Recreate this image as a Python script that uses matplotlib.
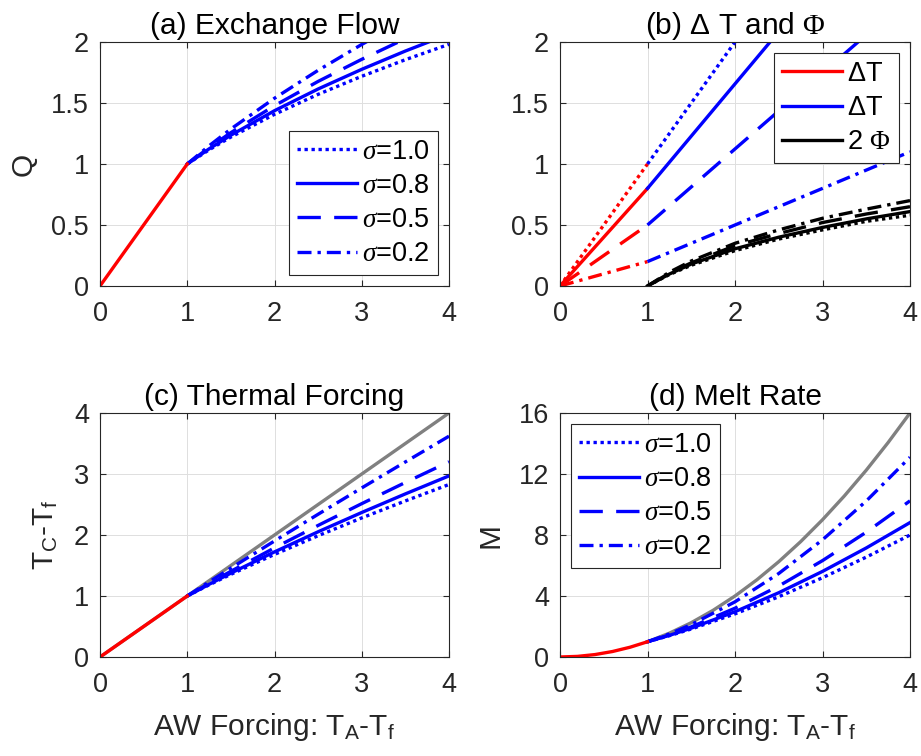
import numpy as np
import matplotlib
matplotlib.use('Agg')
import matplotlib.pyplot as plt
from matplotlib.ticker import FormatStrFormatter
from matplotlib.lines import Line2D

#%% values
x_lo = [0, 1]
x_hi = [1, 1.25, 1.5, 2, 2.5, 3, 3.5, 4]
sig_labels = ['1.0', '0.8', '0.5', '0.2']

# (a) exchange flow Q, for x >= 1
Q_lo = [0, 1]
Q_10 = [1, 1.116, 1.221, 1.407, 1.571, 1.719, 1.855, 1.981]
Q_08 = [1, 1.124, 1.236, 1.437, 1.615, 1.776, 1.926, 2.065]
Q_05 = [1, 1.134, 1.257, 1.478, 1.677, 1.858, 2.027, 2.184]
Q_02 = [1, 1.149, 1.287, 1.539, 1.768, 1.980, 2.179, 2.367]

# (b) delta T (straight pieces) and 2*Phi
x_dT = [0, 1, 4]
dT_10 = [0, 1.0, 4.0]
dT_08 = [0, 0.8, 3.37]
dT_05 = [0, 0.5, 2.37]
dT_02 = [0, 0.2, 1.10]
Phi_10 = [0, 0.094, 0.17, 0.29, 0.385, 0.46, 0.53, 0.58]
Phi_08 = [0, 0.098, 0.18, 0.305, 0.40, 0.48, 0.55, 0.61]
Phi_05 = [0, 0.105, 0.19, 0.33, 0.43, 0.52, 0.59, 0.65]
Phi_02 = [0, 0.113, 0.205, 0.35, 0.46, 0.555, 0.63, 0.70]

# (c) thermal forcing
TC_lo = [0, 1]
TC_ref_x = [0, 4]
TC_ref = [0, 4]
TC_10 = [1, 1.182, 1.355, 1.682, 1.988, 2.280, 2.559, 2.828]
TC_08 = [1, 1.191, 1.375, 1.723, 2.053, 2.369, 2.674, 2.969]
TC_05 = [1, 1.206, 1.405, 1.789, 2.157, 2.514, 2.861, 3.200]
TC_02 = [1, 1.230, 1.457, 1.902, 2.340, 2.772, 3.198, 3.620]

# (d) melt rate
x_M_lo = [0, 0.2, 0.4, 0.6, 0.8, 1]
M_lo = [0, 0.04, 0.16, 0.36, 0.64, 1]
x_M_ref = [1, 1.25, 1.5, 1.75, 2, 2.25, 2.5, 2.75, 3, 3.25, 3.5, 3.75, 4]
M_ref = [1, 1.5625, 2.25, 3.0625, 4, 5.0625, 6.25, 7.5625, 9, 10.5625,
         12.25, 14.0625, 16]
M_10 = [1, 1.397, 1.836, 2.829, 3.952, 5.198, 6.549, 7.998]
M_08 = [1, 1.418, 1.891, 2.969, 4.215, 5.612, 7.150, 8.815]
M_05 = [1, 1.454, 1.974, 3.200, 4.653, 6.320, 8.185, 10.24]
M_02 = [1, 1.513, 2.123, 3.618, 5.476, 7.684, 10.227, 13.10]

#%% style
plt.rcParams['font.family'] = 'Liberation Sans'
plt.rcParams['mathtext.fontset'] = 'custom'
plt.rcParams['mathtext.rm'] = 'Liberation Sans'
plt.rcParams['mathtext.it'] = 'Liberation Serif:italic'
plt.rcParams['mathtext.sf'] = 'Liberation Serif'
plt.rcParams['mathtext.default'] = 'rm'

fs = 19.5   # tick / legend font
fl = 21.5   # titles / labels
lw = 2.4
axc = '#262626'
styles = [(1.0, 1.1), None, (7.0, 4.0), (4.2, 1.8, 1.0, 1.8)]


def set_style(line, st):
    if st is not None:
        line.set_dashes(st)


def fmt_ax(ax, ylim, yticks):
    ax.set_xlim(0, 4)
    ax.set_ylim(*ylim)
    ax.set_xticks([0, 1, 2, 3, 4])
    ax.set_yticks(yticks)
    ax.yaxis.set_major_formatter(FormatStrFormatter('%g'))
    ax.tick_params(direction='in', top=True, right=True, labelsize=fs,
                   colors=axc, length=4, width=0.8)
    ax.tick_params(axis='x', pad=11)
    ax.tick_params(axis='y', pad=8)
    for s in ax.spines.values():
        s.set_color(axc)
        s.set_linewidth(0.8)
    ax.grid(True, color='#dedede', lw=0.7)
    ax.set_axisbelow(True)


def add_legend(ax, handles, labels, loc):
    leg = ax.legend(handles, labels, loc=loc,
                    fontsize=fs, fancybox=False, framealpha=1, edgecolor=axc,
                    handlelength=2.2, handletextpad=0.2, labelspacing=0.3,
                    borderpad=0.3, borderaxespad=0.4)
    leg.get_frame().set_linewidth(0.8)


def sigma_legend(ax, loc):
    hs = [Line2D([], [], color='b', lw=lw) for _ in sig_labels]
    for h, st in zip(hs, styles):
        set_style(h, st)
    add_legend(ax, hs, [r'$\mathit{\sigma}$=' + s for s in sig_labels], loc)


W, H = 921, 756
fig = plt.figure(figsize=(W / 100, H / 100), dpi=100)
ax_a = fig.add_axes([100 / W, 1 - 286 / H, 349 / W, 244 / H])
ax_b = fig.add_axes([560 / W, 1 - 286 / H, 350 / W, 244 / H])
ax_c = fig.add_axes([100 / W, 1 - 657 / H, 349 / W, 244 / H])
ax_d = fig.add_axes([560 / W, 1 - 657 / H, 350 / W, 244 / H])

#%% (a) exchange flow
for Q, st in zip([Q_10, Q_08, Q_05, Q_02], styles):
    l, = ax_a.plot(x_hi, Q, color='b', lw=lw)
    set_style(l, st)
ax_a.plot(x_lo, Q_lo, color='r', lw=lw)
fmt_ax(ax_a, (0, 2), [0, 0.5, 1, 1.5, 2])
ax_a.set_ylabel('Q', fontsize=fl, color=axc, labelpad=10)
ax_a.set_title('(a) Exchange Flow', fontsize=fl)
sigma_legend(ax_a, 'lower right')

#%% (b) delta T and Phi
for dT, st in zip([dT_10, dT_08, dT_05, dT_02], styles):
    l, = ax_b.plot(x_dT[:2], dT[:2], color='r', lw=lw)
    set_style(l, st)
    l, = ax_b.plot(x_dT[1:], dT[1:], color='b', lw=lw)
    set_style(l, st)
for P, st in zip([Phi_10, Phi_08, Phi_05, Phi_02], styles):
    l, = ax_b.plot(x_hi, P, color='k', lw=lw)
    set_style(l, st)
fmt_ax(ax_b, (0, 2), [0, 0.5, 1, 1.5, 2])
ax_b.set_title(r'(b) $\Delta$ T and $\mathsf{\Phi}$', fontsize=fl)
hb = [Line2D([], [], color=c, lw=lw) for c in ['r', 'b', 'k']]
add_legend(ax_b, hb, [r'$\Delta$T', r'$\Delta$T', r'2 $\mathsf{\Phi}$'],
           'upper right')

#%% (c) thermal forcing
ax_c.plot(TC_ref_x, TC_ref, color='#808080', lw=lw)
for T, st in zip([TC_10, TC_08, TC_05, TC_02], styles):
    l, = ax_c.plot(x_hi, T, color='b', lw=lw)
    set_style(l, st)
ax_c.plot(x_lo, TC_lo, color='r', lw=lw)
fmt_ax(ax_c, (0, 4), [0, 1, 2, 3, 4])
ax_c.set_ylabel(r'T$_C$-T$_f$', fontsize=fl, color=axc, labelpad=10)
ax_c.set_xlabel(r'AW Forcing: T$_A$-T$_f$', fontsize=fl, color=axc,
                labelpad=9)
ax_c.set_title('(c) Thermal Forcing', fontsize=fl)

#%% (d) melt rate
ax_d.plot(x_M_ref, M_ref, color='#808080', lw=lw)
for M, st in zip([M_10, M_08, M_05, M_02], styles):
    l, = ax_d.plot(x_hi, M, color='b', lw=lw)
    set_style(l, st)
ax_d.plot(x_M_lo, M_lo, color='r', lw=lw)
fmt_ax(ax_d, (0, 16), [0, 4, 8, 12, 16])
ax_d.set_ylabel('M', fontsize=fl, color=axc, labelpad=10)
ax_d.set_xlabel(r'AW Forcing: T$_A$-T$_f$', fontsize=fl, color=axc,
                labelpad=9)
ax_d.set_title('(d) Melt Rate', fontsize=fl)
sigma_legend(ax_d, 'upper left')

fig.savefig('out.png', dpi=100)
